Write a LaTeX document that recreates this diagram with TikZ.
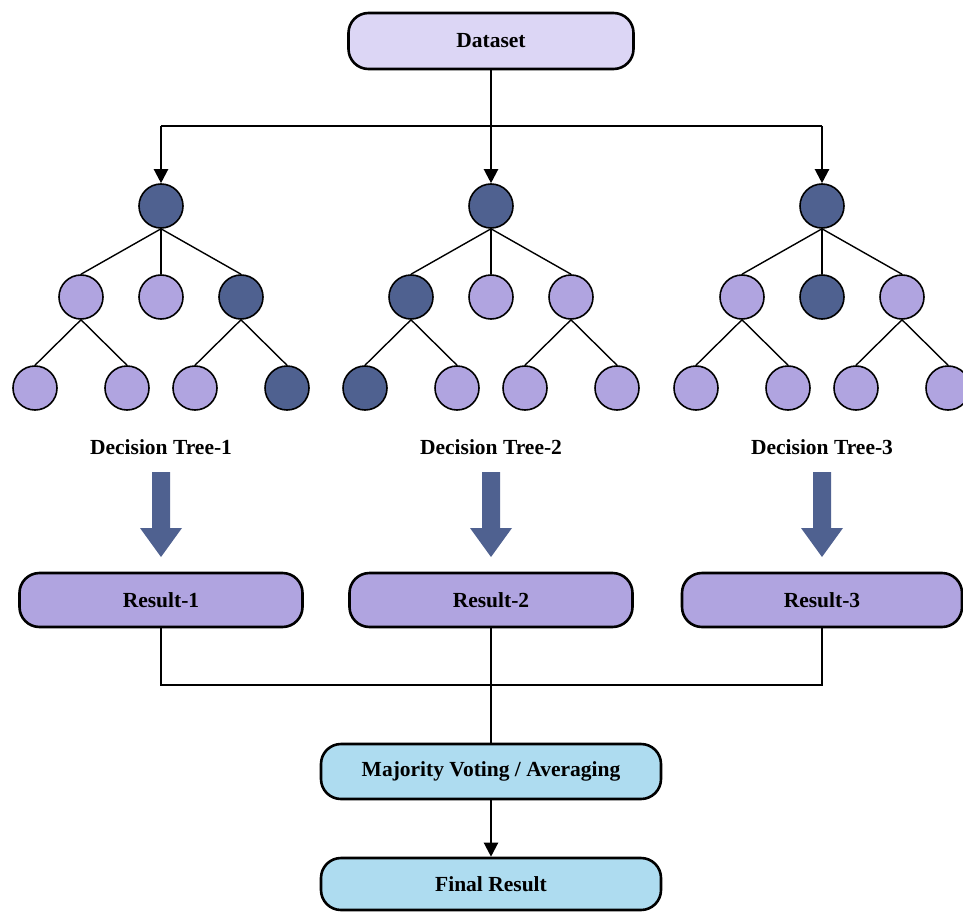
\documentclass[tikz,border=0pt]{standalone}
\usepackage{fontspec}
\setmainfont{Liberation Serif}
\usetikzlibrary{arrows.meta}
\definecolor{dsfill}{HTML}{DCD6F5}
\definecolor{leaf}{HTML}{B0A4E0}
\definecolor{dark}{HTML}{4F6190}
\definecolor{bluebox}{HTML}{AEDCF0}
\begin{document}
\begin{tikzpicture}[x=1pt,y=-1pt,
  box/.style={draw=black, line width=2.6pt, rounded corners=20pt, inner sep=0pt,
    font=\fontsize{21.5}{24}\selectfont\bfseries},
  treenode/.style={circle, draw=black, line width=1.6pt, minimum size=44pt, inner sep=0pt},
  treeedge/.style={line width=1.4pt},
  conn/.style={line width=2.2pt},
  arr/.style={conn, -{Triangle[width=14pt,length=14pt]}},
  lab/.style={font=\fontsize{21.5}{24}\selectfont\bfseries},
  blockarrow/.style={fill=dark, draw=none}
]
\clip (0,0) rectangle (963,912);
\useasboundingbox (0,0) rectangle (963,912);

% Dataset
\node[box, fill=dsfill, minimum width=285pt, minimum height=56pt] (ds) at (491,41) {Dataset};
\coordinate (hl) at (491,126);
\draw[conn] (ds.south) -- (hl);

% Trees
\foreach \t/\cx/\fr/\fa/\fb/\fc/\faa/\fab/\fca/\fcb in
  {1/161/dark/leaf/leaf/dark/leaf/leaf/leaf/dark,
   2/491/dark/dark/leaf/leaf/dark/leaf/leaf/leaf,
   3/822/dark/leaf/dark/leaf/leaf/leaf/leaf/leaf} {
  \node[treenode, fill=\fr] (t\t r) at (\cx,206) {};
  \node[treenode, fill=\fa] (t\t a) at (\cx-80,297) {};
  \node[treenode, fill=\fb] (t\t b) at (\cx,297) {};
  \node[treenode, fill=\fc] (t\t c) at (\cx+80,297) {};
  \node[treenode, fill=\faa] (t\t aa) at (\cx-126,388) {};
  \node[treenode, fill=\fab] (t\t ab) at (\cx-34,388) {};
  \node[treenode, fill=\fca] (t\t ca) at (\cx+34,388) {};
  \node[treenode, fill=\fcb] (t\t cb) at (\cx+126,388) {};
  \draw[treeedge] (t\t r.south) -- (t\t a.north);
  \draw[treeedge] (t\t r.south) -- (t\t b.north);
  \draw[treeedge] (t\t r.south) -- (t\t c.north);
  \draw[treeedge] (t\t a.south) -- (t\t aa.north);
  \draw[treeedge] (t\t a.south) -- (t\t ab.north);
  \draw[treeedge] (t\t c.south) -- (t\t ca.north);
  \draw[treeedge] (t\t c.south) -- (t\t cb.north);
  \node[lab] (dt\t) at (\cx,447) {Decision Tree-\t};
  \fill[blockarrow] (\cx-9,472) -- (\cx+9,472) -- (\cx+9,528) -- (\cx+21,528)
     -- (\cx,557) -- (\cx-21,528) -- (\cx-9,528) -- cycle;
}

% connectors from dataset to tree roots
\draw[conn] (t1r |- hl) -- (t3r |- hl);
\draw[arr] (t1r |- hl) -- (t1r.north);
\draw[arr] (hl) -- (t2r.north);
\draw[arr] (t3r |- hl) -- (t3r.north);

% Results
\node[box, fill=leaf, minimum width=283pt, minimum height=54pt] (r1) at (161,600) {Result-1};
\node[box, fill=leaf, minimum width=283pt, minimum height=54pt] (r2) at (491,600) {Result-2};
\node[box, fill=leaf, minimum width=280pt, minimum height=54pt] (r3) at (822,600) {Result-3};

\coordinate (hb) at (491,685);
\draw[conn] (r1.south) -- (r1.south |- hb) -- (r3.south |- hb) -- (r3.south);

% Aggregation
\node[box, fill=bluebox, minimum width=340pt, minimum height=55pt] (mv) at (491,771.5) {Majority Voting / Averaging};
\node[box, fill=bluebox, minimum width=340pt, minimum height=52pt] (fr) at (491,884) {Final Result};
\draw[conn] (r2.south) -- (mv.north);
\draw[arr] (mv.south) -- (fr.north);
\end{tikzpicture}
\end{document}
